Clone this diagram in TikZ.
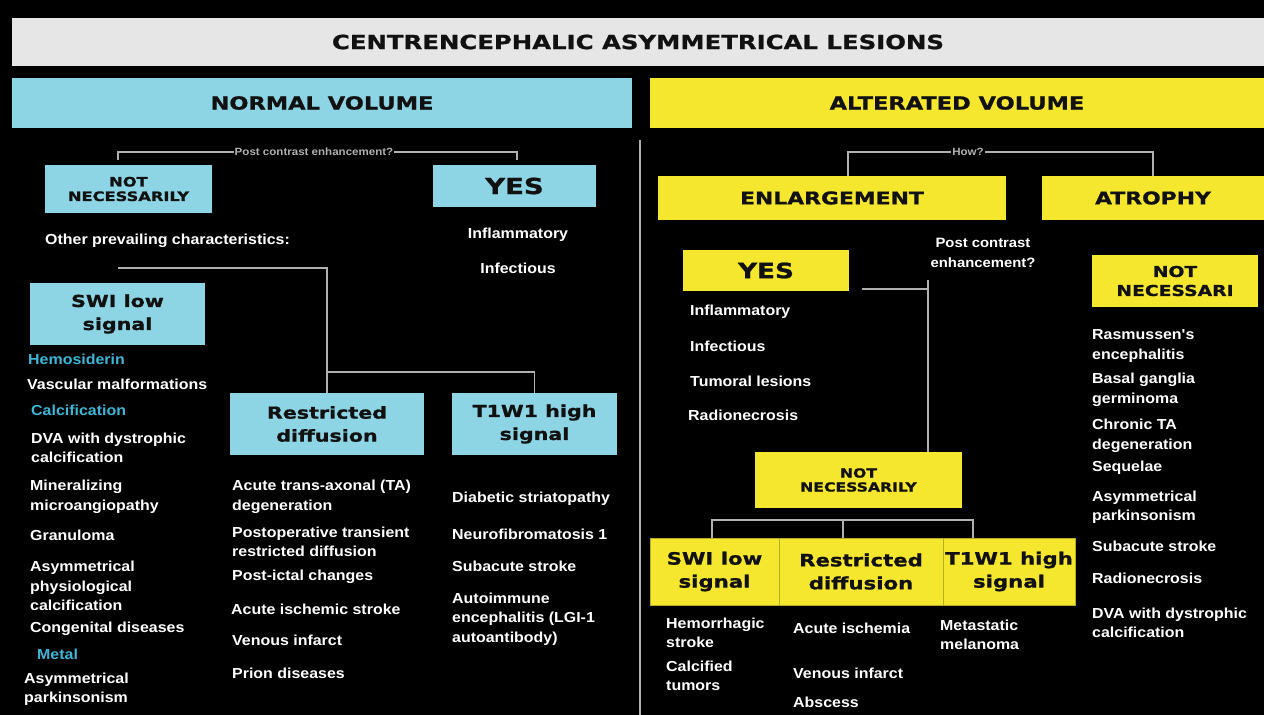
\documentclass[tikz,border=0pt]{standalone}
\usepackage{fontspec}
\setmainfont{Liberation Sans}
\newfontfamily\hfont{DejaVu Sans}[FakeStretch=1.25, FakeBold=1]
\newfontfamily\bodyfont{Liberation Sans}[FakeStretch=1.1]
\definecolor{cblue}{HTML}{8DD4E4}
\definecolor{cyel}{HTML}{F5E62E}
\definecolor{cband}{HTML}{E6E6E6}
\definecolor{ccyan}{HTML}{3DB6D6}
\definecolor{cline}{HTML}{B0B0B0}
\definecolor{cdark}{HTML}{111111}
\begin{document}
\begin{tikzpicture}[x=1pt,y=-1pt,
  box/.style={inner sep=0pt, align=center, text=cdark, font=\hfont\bfseries},
  bbox/.style={box, fill=cblue},
  ybox/.style={box, fill=cyel},
  bigt/.style={font={\hfont\bfseries\fontsize{17.5}{21}\selectfont}},
  yest/.style={font={\hfont\bfseries\fontsize{22}{24}\selectfont}},
  midt/.style={font={\hfont\bfseries\fontsize{16.5}{23}\selectfont}},
  lowt/.style={font={\hfont\bfseries\fontsize{17}{23}\selectfont}},
  smt/.style={font={\hfont\bfseries\fontsize{12.5}{14}\selectfont}},
  item/.style={anchor=west, align=left, inner sep=0pt, text=white,
     font={\bodyfont\bfseries\fontsize{14.5}{19.5}\selectfont}},
  citem/.style={item, text=ccyan},
  conn/.style={draw=cline, line width=1.1pt},
  qlab/.style={inner sep=1pt, text=cline, font={\bodyfont\bfseries\fontsize{10.5}{12}\selectfont}},
  qlab2/.style={inner sep=0pt, align=center, text=white, font={\bodyfont\bfseries\fontsize{13.5}{20}\selectfont}}
]
\useasboundingbox (0,0) rectangle (1264,715);
\fill[black] (0,0) rectangle (1264,715);

% bands
\node[box, fill=cband, minimum width=1252pt, minimum height=48pt, font={\hfont\bfseries\fontsize{19.5}{22}\selectfont}] (title) at (638,42) {CENTRENCEPHALIC ASYMMETRICAL LESIONS};
\node[bbox, minimum width=620pt, minimum height=50pt, font={\hfont\bfseries\fontsize{18}{20}\selectfont}] (normal) at (322,103) {NORMAL VOLUME};
\node[ybox, minimum width=614pt, minimum height=50pt, font={\hfont\bfseries\fontsize{18}{20}\selectfont}] (altered) at (957,103) {ALTERATED VOLUME};

% divider
\coordinate (d1) at (640,140);
\coordinate (d2) at (640,715);
\draw[conn] (d1) -- (d2);

% ---------------- LEFT ----------------
\node[qlab] (pc1) at (314,152) {Post contrast enhancement?};
\node[bbox, smt, font={\hfont\bfseries\fontsize{13}{14.5}\selectfont}, minimum width=167pt, minimum height=48pt] (nn1) at (128.5,189) {NOT\\NECESSARILY};
\node[bbox, yest, minimum width=163pt, minimum height=42pt] (yes1) at (514.5,186) {YES};
\coordinate (c1) at (118,160);
\coordinate (c1b) at (517,160);
\draw[conn] (pc1.west) -| (c1);
\draw[conn] (pc1.east) -| (c1b);

\node[item] (opc) at (45,241) {Other prevailing characteristics:};
\node[item, anchor=center] (inf1) at (518,235) {Inflammatory};
\node[item, anchor=center] (inf2) at (518,268) {Infectious};

\node[bbox, midt, minimum width=175pt, minimum height=62pt] (swi1) at (117.5,314) {SWI low\\signal};
\node[bbox, midt, minimum width=194pt, minimum height=62pt] (rd1) at (327,424) {Restricted\\diffusion};
\node[bbox, midt, minimum width=165pt, minimum height=62pt] (t11) at (534.5,424) {T1W1 high\\signal};

\coordinate (c2) at (118,268);
\coordinate (j1) at (327,372);
\draw[conn] (c2) -| (rd1.north);
\draw[conn] (j1) -| (t11.north);

% left list
\node[citem] (l1) at (28,359) {Hemosiderin};
\node[item] (l2) at (27,384) {Vascular malformations};
\node[citem] (l3) at (31,410) {Calcification};
\node[item] (l4) at (31,448) {DVA with dystrophic\\calcification};
\node[item] (l5) at (30,497) {Mineralizing\\microangiopathy};
\node[item] (l6) at (30,535) {Granuloma};
\node[item] (l7) at (30,586) {Asymmetrical\\physiological\\calcification};
\node[item] (l8) at (30,629) {Congenital diseases};
\node[citem] (l9) at (37,654) {Metal};
\node[item] (l10) at (24,689) {Asymmetrical\\parkinsonism};

% restricted list
\node[item] (r1) at (232,497) {Acute trans-axonal (TA)\\degeneration};
\node[item] (r2) at (232,542) {Postoperative transient\\restricted diffusion};
\node[item] (r3) at (232,577) {Post-ictal changes};
\node[item] (r4) at (231,609) {Acute ischemic stroke};
\node[item] (r5) at (232,640) {Venous infarct};
\node[item] (r6) at (232,673) {Prion diseases};

% T1 list
\node[item] (t1) at (452,499) {Diabetic striatopathy};
\node[item] (t2) at (452,534) {Neurofibromatosis 1};
\node[item] (t3) at (452,566) {Subacute stroke};
\node[item] (t4) at (452,619) {Autoimmune\\encephalitis (LGI-1\\autoantibody)};

% ---------------- RIGHT ----------------
\node[qlab] (how) at (968,152) {How?};
\node[ybox, bigt, minimum width=348pt, minimum height=44pt] (enl) at (832,198) {ENLARGEMENT};
\node[ybox, bigt, minimum width=222pt, minimum height=44pt] (atr) at (1153,198) {ATROPHY};
\coordinate (e1) at (848,176);
\draw[conn] (how.west) -- ++(-15,0) -| (e1);
\draw[conn] (how.east) -- ++(15,0) -| (atr.north);

\node[ybox, yest, font={\hfont\bfseries\fontsize{21}{24}\selectfont}, minimum width=166pt, minimum height=41pt] (yes2) at (766,270.5) {YES};
\node[qlab2] (pc2) at (983,253) {Post contrast\\enhancement?};
\node[ybox, smt, minimum width=207pt, minimum height=56pt] (nn2) at (858.5,480) {NOT\\NECESSARILY};
\coordinate (v1) at (928,280);
\coordinate (h1) at (862,289);
\draw[conn] (v1) -- (v1 |- nn2.north);
\draw[conn] (h1) -- (h1 -| v1);

\node[item] (y1) at (690,312) {Inflammatory};
\node[item] (y2) at (690,346) {Infectious};
\node[item] (y3) at (690,381) {Tumoral lesions};
\node[item] (y4) at (688,415) {Radionecrosis};

% lower boxes
\node[ybox, lowt, draw=cyel!75!black, line width=0.6pt, minimum width=129pt, minimum height=67pt] (swi2) at (714.5,571.5) {SWI low\\signal};
\node[ybox, lowt, draw=cyel!75!black, line width=0.6pt, minimum width=164pt, minimum height=67pt] (rd2) at (861,571.5) {Restricted\\diffusion};
\node[ybox, lowt, draw=cyel!75!black, line width=0.6pt, minimum width=132pt, minimum height=67pt] (t12) at (1009,571.5) {T1W1 high\\signal};
\coordinate (b1) at (712,538);
\coordinate (b2) at (843,520);
\coordinate (b3) at (973,538);
\draw[conn] (b1) |- (b2) -| (b3);
\draw[conn] (b2) -- (b2 |- rd2.north);

\node[item] (s1) at (666,633) {Hemorrhagic\\stroke};
\node[item] (s2) at (666,676) {Calcified\\tumors};
\node[item] (q1) at (793,628) {Acute ischemia};
\node[item] (q2) at (793,673) {Venous infarct};
\node[item] (q3) at (793,702) {Abscess};
\node[item] (m1) at (940,635) {Metastatic\\melanoma};

% atrophy column
\node[ybox, font={\hfont\bfseries\fontsize{15}{19}\selectfont}, minimum width=166pt, minimum height=52pt] (nn3) at (1175,281) {NOT\\NECESSARI};
\node[item] (a1) at (1092,346) {Rasmussen's\\encephalitis};
\node[item] (a2) at (1092,390) {Basal ganglia\\germinoma};
\node[item] (a3) at (1092,436) {Chronic TA\\degeneration};
\node[item] (a4) at (1092,468) {Sequelae};
\node[item] (a5) at (1092,507) {Asymmetrical\\parkinsonism};
\node[item] (a6) at (1092,546) {Subacute stroke};
\node[item] (a7) at (1092,578) {Radionecrosis};
\node[item] (a8) at (1092,623) {DVA with dystrophic\\calcification};
\end{tikzpicture}
\end{document}
